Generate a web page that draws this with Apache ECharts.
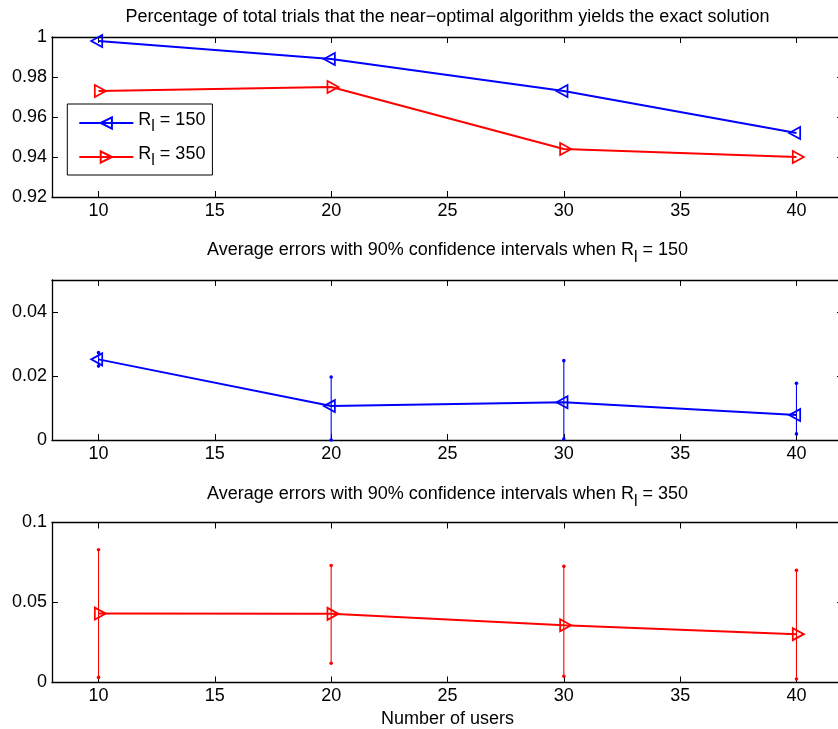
<!DOCTYPE html>
<html>
<head>
<meta charset="utf-8">
<title>Near-optimal algorithm: exactness and average errors</title>
<script src="https://cdn.jsdelivr.net/npm/echarts@6/dist/echarts.min.js"></script>
<style>
  html, body { margin: 0; padding: 0; background: #fff; }
  #chart { width: 838px; height: 729px; }
</style>
</head>
<body>
<div id="chart"></div>
<script>
// ---- data ----
const users = [10, 20, 30, 40];
const userTicks = [10, 15, 20, 25, 30, 35, 40];

// fraction of trials where the near-optimal algorithm is exact
const exactRate150 = [0.998, 0.989, 0.973, 0.952];
const exactRate350 = [0.973, 0.975, 0.944, 0.940];
const rateTicks = [0.92, 0.94, 0.96, 0.98, 1];

// average error with 90% confidence interval, R_l = 150
const err150Mean = [0.0252, 0.0106, 0.0118, 0.0078];
const err150Low  = [0.0231, 0.0000, 0.0003, 0.0019];
const err150High = [0.0273, 0.0197, 0.0248, 0.0177];
const err150Ticks = [0, 0.02, 0.04];

// average error with 90% confidence interval, R_l = 350
const err350Mean = [0.0431, 0.0429, 0.0358, 0.0302];
const err350Low  = [0.0032, 0.0120, 0.0039, 0.0022];
const err350High = [0.0830, 0.0731, 0.0726, 0.0701];
const err350Ticks = [0, 0.05, 0.1];

// ---- style ----
const FONT = '"Liberation Sans", Arial, Helvetica, sans-serif';
const FS = 18;
const BLUE = '#0000ff';
const RED = '#ff0000';
const LEFT_TRI = 'path://M0,5L10,0L10,10Z';
const RIGHT_TRI = 'path://M10,5L0,0L0,10Z';

const rich = {
  n: { fontSize: FS, fontFamily: FONT, color: '#000', verticalAlign: 'top' },
  s: { fontSize: 16, fontFamily: FONT, color: '#000', verticalAlign: 'top', padding: [8, 0, 0, 0] }
};

const gridTops = [37, 280, 522.5];
const gridH = 160;

function axisLine() {
  return { show: true, onZero: false, lineStyle: { color: '#000', width: 1.3 } };
}

function xAxesFor(gridIndex, name) {
  const base = {
    type: 'value', gridIndex, min: 8, max: 42,
    axisLine: axisLine(),
    axisTick: { show: true, inside: true, length: 6, customValues: userTicks, lineStyle: { color: '#000', width: 1 } },
    splitLine: { show: false }
  };
  const bottom = Object.assign({}, base, {
    position: 'bottom',
    axisLabel: { customValues: userTicks, color: '#000', fontSize: FS, fontFamily: FONT, margin: 5 }
  });
  if (name) {
    Object.assign(bottom, {
      name, nameLocation: 'middle', nameGap: 28,
      nameTextStyle: { color: '#000', fontSize: FS, fontFamily: FONT }
    });
  }
  const top = Object.assign({}, base, { position: 'top', axisLabel: { show: false } });
  return [bottom, top];
}

function yAxesFor(gridIndex, min, max, ticks) {
  const base = {
    type: 'value', gridIndex, min, max,
    axisLine: axisLine(),
    axisTick: { show: true, inside: true, length: 6, customValues: ticks, lineStyle: { color: '#000', width: 1 } },
    splitLine: { show: false }
  };
  const left = Object.assign({}, base, {
    position: 'left',
    axisLabel: { customValues: ticks, color: '#000', fontSize: FS, fontFamily: FONT, margin: 5, padding: [2, 0, 0, 0] }
  });
  const right = Object.assign({}, base, { position: 'right', axisLabel: { show: false } });
  return [left, right];
}

function renderErrorBar(params, api) {
  const x = api.value(0);
  const lo = api.coord([x, api.value(1)]);
  const hi = api.coord([x, api.value(2)]);
  const color = api.visual('color');
  return {
    type: 'group',
    children: [
      { type: 'line', shape: { x1: lo[0], y1: lo[1], x2: hi[0], y2: hi[1] }, style: { stroke: color, lineWidth: 1.1 } },
      { type: 'circle', shape: { cx: lo[0], cy: lo[1], r: 1.8 }, style: { fill: color } },
      { type: 'circle', shape: { cx: hi[0], cy: hi[1], r: 1.8 }, style: { fill: color } }
    ]
  };
}

function lineSeries(name, axisIdx, values, color, symbol, offsetX) {
  return {
    name, type: 'line',
    xAxisIndex: axisIdx, yAxisIndex: axisIdx,
    data: users.map((u, i) => [u, values[i]]),
    symbol, symbolSize: [11, 12], symbolOffset: [offsetX, 0],
    showSymbol: true, showAllSymbol: true,
    lineStyle: { color, width: 2 },
    itemStyle: { color: 'transparent', borderColor: color, borderWidth: 1.8 },
    z: 3
  };
}

function errorSeries(name, axisIdx, low, high, color) {
  return {
    name, type: 'custom',
    xAxisIndex: axisIdx, yAxisIndex: axisIdx,
    data: users.map((u, i) => [u, low[i], high[i]]),
    encode: { x: 0, y: [1, 2] },
    renderItem: renderErrorBar,
    itemStyle: { color },
    clip: false,
    z: 2
  };
}

const NAME150 = 'R_l = 150';
const NAME350 = 'R_l = 350';

const option = {
  animation: false,
  backgroundColor: '#fff',
  title: [
    {
      text: 'Percentage of total trials that the near\u2212optimal algorithm yields the exact solution',
      left: 447.5, textAlign: 'center', top: 7.7, padding: 0,
      textStyle: { color: '#000', fontSize: FS, fontFamily: FONT, fontWeight: 'normal' }
    },
    {
      text: '{n|Average errors with 90% confidence intervals when R}{s|l}{n| = 150}',
      left: 447.5, textAlign: 'center', top: 241.3, padding: 0,
      textStyle: { fontSize: FS, fontFamily: FONT, fontWeight: 'normal', rich }
    },
    {
      text: '{n|Average errors with 90% confidence intervals when R}{s|l}{n| = 350}',
      left: 447.5, textAlign: 'center', top: 485.2, padding: 0,
      textStyle: { fontSize: FS, fontFamily: FONT, fontWeight: 'normal', rich }
    }
  ],
  legend: {
    data: [NAME150, NAME350],
    orient: 'vertical',
    left: 67.3, top: 104,
    padding: [7, 7, 6, 11],
    itemWidth: 54, itemHeight: 14, itemGap: 10,
    selectedMode: false,
    backgroundColor: '#fff',
    borderColor: '#000', borderWidth: 1, borderRadius: 0,
    formatter: name => name === NAME150 ? '{n|R}{s|l}{n| = 150}' : '{n|R}{s|l}{n| = 350}',
    textStyle: { fontSize: FS, fontFamily: FONT, color: '#000', rich }
  },
  grid: gridTops.map(t => ({
    left: 52, top: t, width: 791, height: gridH,
    containLabel: false, outerBoundsMode: 'none'
  })),
  xAxis: [
    ...xAxesFor(0),
    ...xAxesFor(1),
    ...xAxesFor(2, 'Number of users')
  ],
  yAxis: [
    ...yAxesFor(0, 0.92, 1, rateTicks),
    ...yAxesFor(1, 0, 0.05, err150Ticks),
    ...yAxesFor(2, 0, 0.1, err350Ticks)
  ],
  series: [
    lineSeries(NAME150, 0, exactRate150, BLUE, LEFT_TRI, -1.8),
    lineSeries(NAME350, 0, exactRate350, RED, RIGHT_TRI, 1.8),
    errorSeries('CI 150', 2, err150Low, err150High, BLUE),
    lineSeries('Mean error 150', 2, err150Mean, BLUE, LEFT_TRI, -1.8),
    errorSeries('CI 350', 4, err350Low, err350High, RED),
    lineSeries('Mean error 350', 4, err350Mean, RED, RIGHT_TRI, 1.8)
  ]
};

const chart = echarts.init(document.getElementById('chart'), null, { renderer: 'canvas' });
chart.setOption(option);
</script>
</body>
</html>
